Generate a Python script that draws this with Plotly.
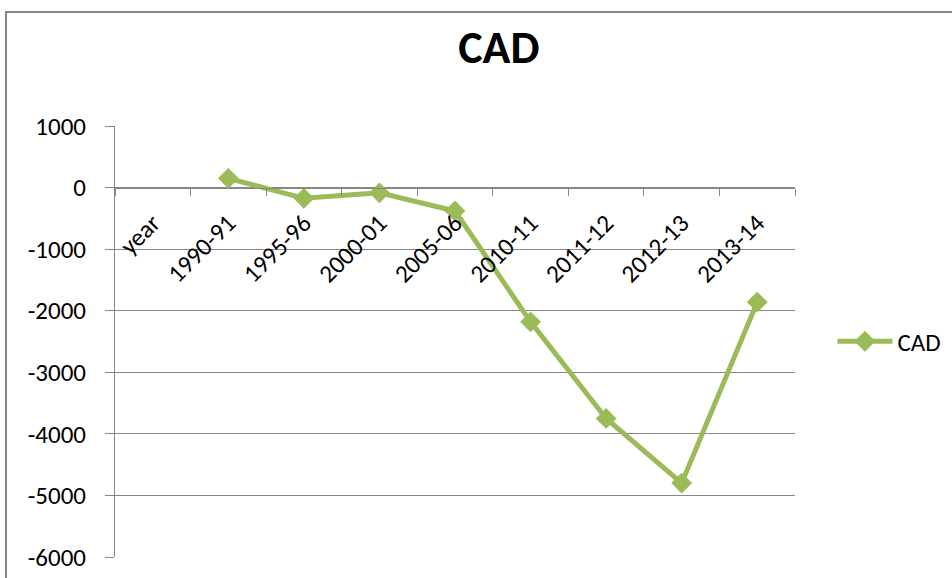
import plotly.graph_objects as go

# Current account deficit by period
categories = ["year", "1990-91", "1995-96", "2000-01", "2005-06",
              "2010-11", "2011-12", "2012-13", "2013-14"]
cad_values = [None, 150, -175, -85, -380, -2180, -3750, -4800, -1860]
y_ticks = [1000, 0, -1000, -2000, -3000, -4000, -5000, -6000]
y_tick_labels = [str(v) for v in y_ticks]

FONT = "Carlito, Calibri, Lato, sans-serif"
GREEN = "#9BBB59"
GRAY = "#868686"

fig = go.Figure()
fig.add_trace(go.Scatter(
    x=categories, y=cad_values, name="CAD", mode="lines+markers",
    line=dict(color=GREEN, width=5),
    marker=dict(symbol="diamond", size=16, color=GREEN),
    connectgaps=False,
))

# place the category axis at y = 0
y_min, y_max = -6000, 1000
zero_pos = (0 - y_min) / (y_max - y_min)

fig.update_layout(
    width=952, height=578,
    margin=dict(l=115, r=157, t=126, b=21, autoexpand=False),
    paper_bgcolor="white", plot_bgcolor="white",
    font=dict(family=FONT, color="black", size=25),
    title=dict(text="<b>CAD</b>", x=0.524, xref="container",
               y=1 - 47 / 578, yref="container", xanchor="center", yanchor="middle",
               font=dict(family=FONT, size=46, color="black")),
    showlegend=True,
    legend=dict(x=1.055, y=0.50, xanchor="left", yanchor="middle",
                font=dict(family=FONT, size=25), bgcolor="rgba(0,0,0,0)",
                itemwidth=55),
    xaxis=dict(
        type="category", range=[-0.5, 8.5],
        anchor="free", position=zero_pos, automargin=False,
        showline=True, linecolor=GRAY, linewidth=1,
        showgrid=False, zeroline=False,
        ticks="outside", tickson="boundaries", ticklen=7, tickcolor=GRAY,
        ticklabelstandoff=10,
        tickangle=-45, tickfont=dict(family=FONT, size=25, color="black"),
    ),
    yaxis=dict(
        range=[y_min, y_max], tickvals=y_ticks, ticktext=y_tick_labels,
        automargin=False,
        showline=True, linecolor=GRAY, linewidth=1,
        showgrid=True, gridcolor=GRAY, gridwidth=1,
        zeroline=False,
        ticks="outside", ticklen=9, tickcolor=GRAY,
        ticklabelstandoff=14,
        tickfont=dict(family=FONT, size=25, color="black"),
    ),
    shapes=[dict(type="rect", xref="paper", yref="paper",
                 x0=(6 - 115) / 680, x1=1.5, y0=-0.5, y1=(557 - 12) / 431,
                 line=dict(color=GRAY, width=2), fillcolor="rgba(0,0,0,0)",
                 layer="below")],
)

fig.write_html("out.html")
